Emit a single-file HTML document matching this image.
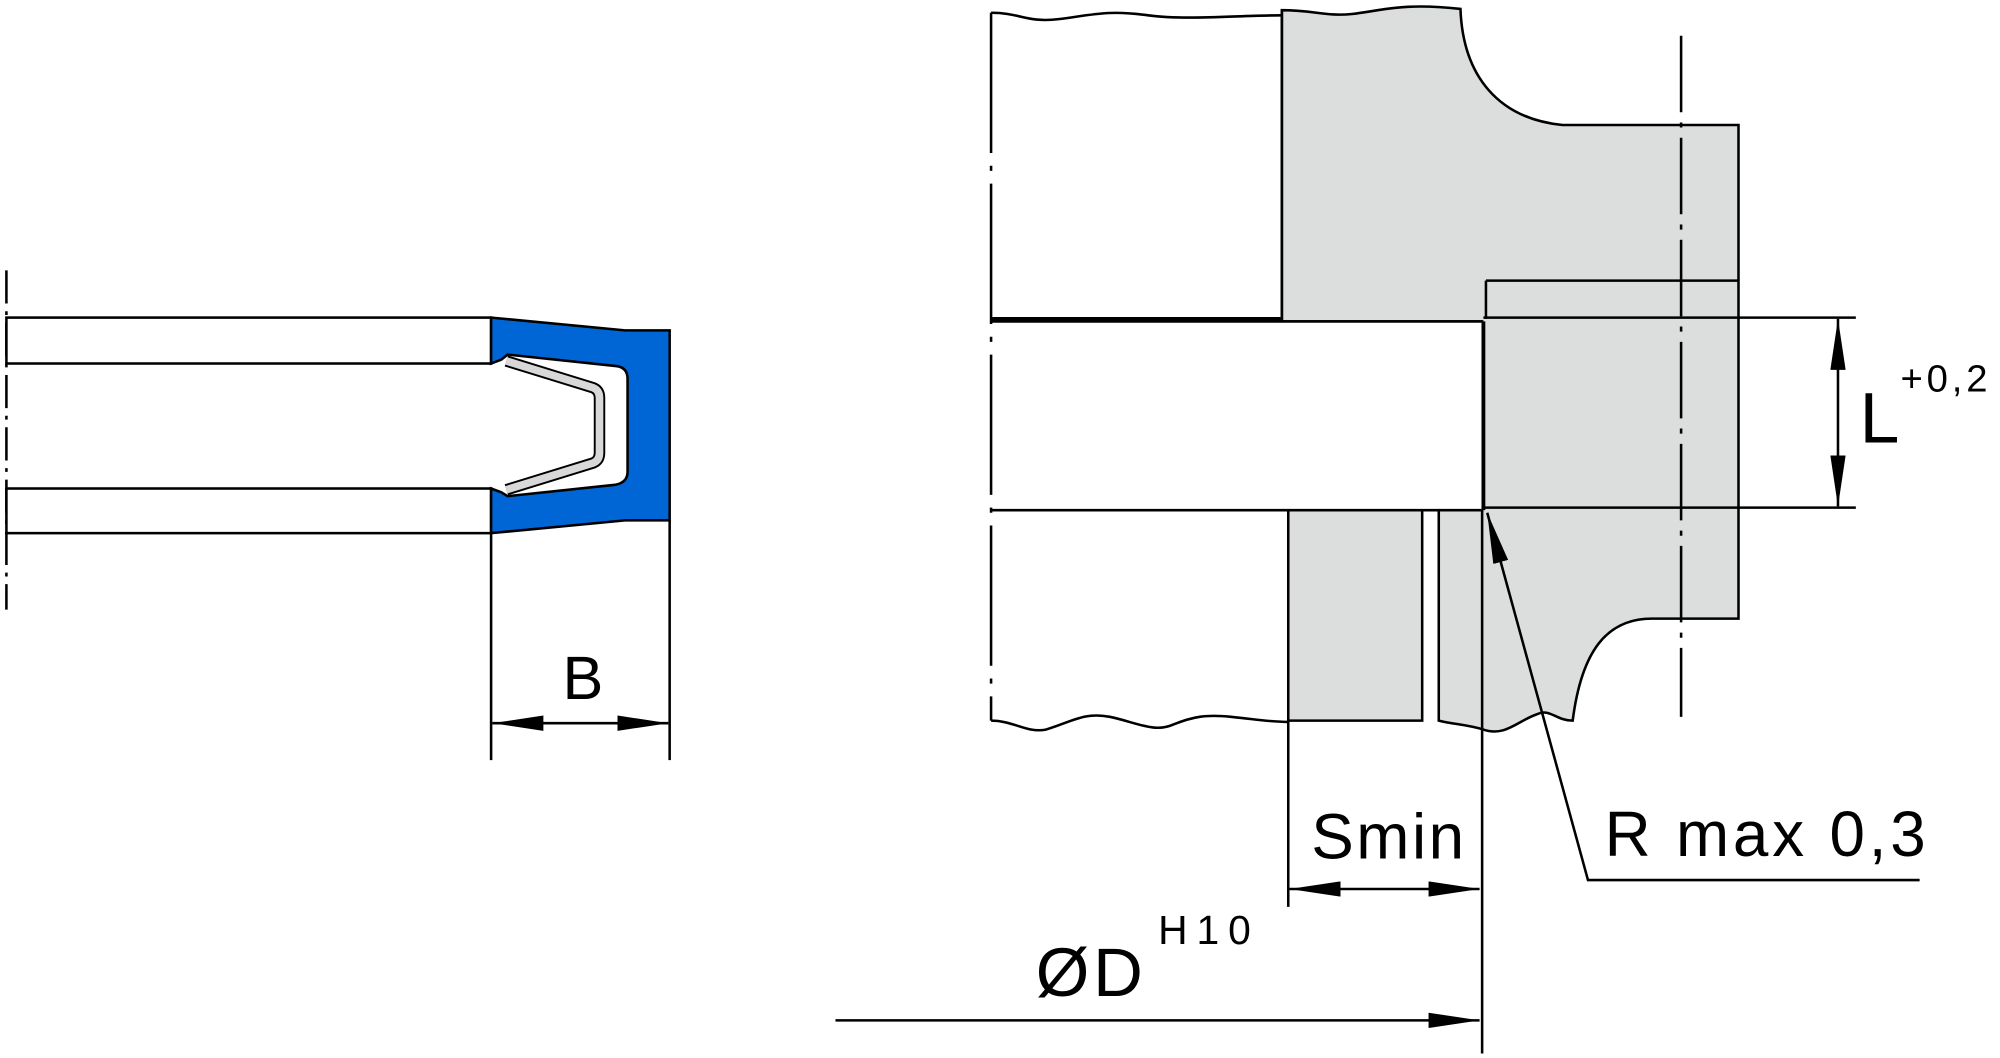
<!DOCTYPE html>
<html><head><meta charset="utf-8"><style>
html,body{margin:0;padding:0;background:#fff;}
svg{display:block;}
text{font-family:"Liberation Sans",Arial,sans-serif;fill:#000;}
</style></head><body>
<svg width="2000" height="1058" viewBox="0 0 1568 829.5" xmlns="http://www.w3.org/2000/svg">
<defs>
<marker id="ae" viewBox="0 0 40 12" refX="40" refY="6" markerWidth="40" markerHeight="12" markerUnits="userSpaceOnUse" orient="auto">
<path d="M0,0 L40,6 L0,12 Z" fill="#000"/></marker>
<marker id="as" viewBox="0 0 40 12" refX="0" refY="6" markerWidth="40" markerHeight="12" markerUnits="userSpaceOnUse" orient="auto">
<path d="M40,0 L0,6 L40,12 Z" fill="#000"/></marker>
</defs>
<g stroke="#000" stroke-width="2" fill="none">
<!-- LEFT -->
<line x1="5" y1="212" x2="5" y2="478" stroke-dasharray="26,6,3,6"/>
<rect x="5" y="249" width="380" height="36" fill="#fff"/>
<rect x="5" y="383" width="380" height="35" fill="#fff"/>
<path d="M385,249 L490,259 L525,259 L525,408 L490,408 L385,418 L385,383 L393,386 L398,389 L483,380 Q492,378 492,370 L492,297 Q492,288 483,287 L398,278 L393,282 L385,285 Z" fill="#0066d6"/>
<path d="M397,283 L465,304 Q470,306 470,312 L470,355 Q470,361 465,363 L397,384" stroke="#000" stroke-width="9" stroke-linejoin="round"/>
<path d="M397,283 L465,304 Q470,306 470,312 L470,355 Q470,361 465,363 L397,384" stroke="#d8d8d8" stroke-width="6" stroke-linejoin="round"/>
<line x1="385" y1="418" x2="385" y2="596"/>
<line x1="525" y1="408" x2="525" y2="596"/>
<line x1="386" y1="567" x2="524" y2="567" marker-start="url(#as)" marker-end="url(#ae)"/>
<!-- RIGHT: grey parts -->
<path d="M1005,8 C1030,8 1040,13 1060,11 C1085,8 1100,2 1145,7 C1147,60 1175,93 1225,98 L1363,98 L1363,485 L1295,485 C1260,485 1240,510 1233,565 C1220,565 1215,555 1205,560 C1190,565 1180,578 1163,572 C1150,568 1140,568 1128,565 L1128,400 L1115,400 L1115,565 L1010,565 L1010,400 L1162,400 L1162,252 L1005,252 Z" fill="#dcdedd"/>
<rect x="777" y="252" width="385" height="148" fill="#fff" stroke="none"/>
<path d="M777,10 C800,10 805,18 830,15 C860,11 870,8 900,12 C930,16 970,12 1005,12" />
<path d="M777,565 C795,565 805,575 820,572 C840,566 850,558 870,562 C890,566 905,575 920,568 C935,562 945,560 965,562 C985,564 995,566 1010,566"/>
<line x1="777" y1="10" x2="777" y2="565" stroke-dasharray="110,10,4,10"/>
<line x1="777" y1="250" x2="1005" y2="250" stroke-width="3"/>
<line x1="1005" y1="8" x2="1005" y2="251"/>
<line x1="777" y1="252" x2="1162" y2="252"/>
<line x1="777" y1="400" x2="1162" y2="400"/>
<line x1="1163" y1="252" x2="1163" y2="400" stroke-width="3"/>
<line x1="1165" y1="220" x2="1363" y2="220"/>
<line x1="1165" y1="220" x2="1165" y2="250"/>
<line x1="1318" y1="28" x2="1318" y2="562" stroke-dasharray="60,8,4,8"/>
<!-- L dimension -->
<line x1="1163" y1="249" x2="1455" y2="249"/>
<line x1="1163" y1="398" x2="1455" y2="398"/>
<line x1="1441" y1="250" x2="1441" y2="397" marker-start="url(#as)" marker-end="url(#ae)"/>
<!-- Smin / D -->
<line x1="1010" y1="565" x2="1010" y2="711"/>
<line x1="1162" y1="400" x2="1162" y2="826"/>
<line x1="1011" y1="697" x2="1160" y2="697" marker-start="url(#as)" marker-end="url(#ae)"/>
<line x1="655" y1="800" x2="1160" y2="800" marker-end="url(#ae)"/>
<!-- R leader -->
<path d="M1505,690 L1245,690 L1166,402" marker-end="url(#ae)"/>
</g>
<text x="457" y="548" font-size="48" text-anchor="middle">B</text>
<text x="1458" y="347" font-size="56">L</text>
<text x="1490" y="307" font-size="30" letter-spacing="3">+0,2</text>
<text x="1028" y="673" font-size="50" letter-spacing="2">Smin</text>
<text x="1258" y="671" font-size="50" letter-spacing="3">R max 0,3</text>
<text x="812" y="781" font-size="54" letter-spacing="3">ØD</text>
<text x="908" y="740" font-size="32" letter-spacing="7">H10</text>
</svg>
</body></html>
